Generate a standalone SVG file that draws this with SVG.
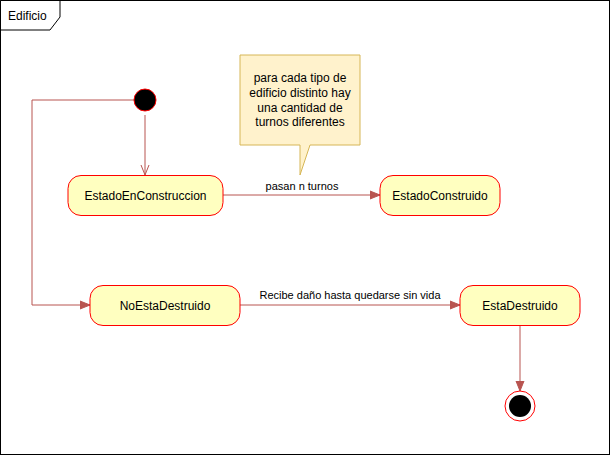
<svg xmlns="http://www.w3.org/2000/svg" width="611" height="456" viewBox="0 0 611 456">
<style>
.state{fill:#ffffc0;stroke:#ff0000;stroke-width:1}
.lbl{font-family:"Liberation Sans",Arial,sans-serif;font-size:12px;fill:#000;text-anchor:middle}
.elbl{font-family:"Liberation Sans",Arial,sans-serif;font-size:11px;fill:#000;text-anchor:middle}
.edge{fill:none;stroke:#b85450;stroke-width:1}
</style>
<defs>
<marker id="block" viewBox="0 0 10 10" refX="10" refY="5" markerWidth="10" markerHeight="10" markerUnits="userSpaceOnUse" orient="auto">
<path d="M0,1 L10,5 L0,9 Z" fill="#b85450" stroke="#b85450"/>
</marker>
<marker id="open" viewBox="0 0 10 10" refX="10" refY="5" markerWidth="10" markerHeight="10" markerUnits="userSpaceOnUse" orient="auto">
<path d="M0,1 L10,5 L0,9" fill="none" stroke="#b85450"/>
</marker>
</defs>
<rect width="611" height="456" fill="#ffffff"/>
<g id="frame">
<rect x="0.5" y="0.5" width="609" height="454" fill="none" stroke="#000"/>
<path d="M0.5,0.5 H60 V17 L50,30 H0.5 Z" fill="#fff" stroke="#000"/>
<text x="8" y="20" font-family="Liberation Sans,Arial,sans-serif" font-size="12">Edificio</text>
</g>
<g id="connectors">
<path class="edge" d="M145,115 V175" marker-end="url(#open)"/>
<path class="edge" d="M223,195 H380" marker-end="url(#block)"/>
<text class="elbl" x="302" y="190">pasan n turnos</text>
<path class="edge" d="M134,100 H32 V305 H90" marker-end="url(#block)"/>
<path class="edge" d="M240,305 H460" marker-end="url(#block)"/>
<text class="elbl" x="350" y="299">Recibe daño hasta quedarse sin vida</text>
<path class="edge" d="M520,325 V391" marker-end="url(#block)"/>
</g>
<g id="initial">
<circle cx="145" cy="100" r="11" fill="#000" stroke="#ff0000"/>
</g>
<g id="note">
<path d="M240,55 H360 V145 H310 L300,175 L300,145 H240 Z" fill="#fff2cc" stroke="#d6b656"/>
<text class="lbl" x="300" y="82">para cada tipo de</text>
<text class="lbl" x="300" y="97">edificio distinto hay</text>
<text class="lbl" x="300" y="112">una cantidad de</text>
<text class="lbl" x="300" y="126">turnos diferentes</text>
</g>
<g id="EstadoEnConstruccion">
<rect class="state" x="68" y="175.5" width="155" height="40" rx="13"/>
<text class="lbl" x="145.5" y="200">EstadoEnConstruccion</text>
</g>
<g id="EstadoConstruido">
<rect class="state" x="380" y="175.5" width="120" height="40" rx="13"/>
<text class="lbl" x="440" y="200">EstadoConstruido</text>
</g>
<g id="NoEstaDestruido">
<rect class="state" x="90" y="285.5" width="150" height="40" rx="13"/>
<text class="lbl" x="165" y="310">NoEstaDestruido</text>
</g>
<g id="EstaDestruido">
<rect class="state" x="460" y="285.5" width="120" height="40" rx="13"/>
<text class="lbl" x="520" y="310">EstaDestruido</text>
</g>
<g id="final">
<circle cx="520" cy="406" r="15" fill="#fff" stroke="#ff0000"/>
<circle cx="520" cy="406" r="11" fill="#000"/>
</g>
</svg>
